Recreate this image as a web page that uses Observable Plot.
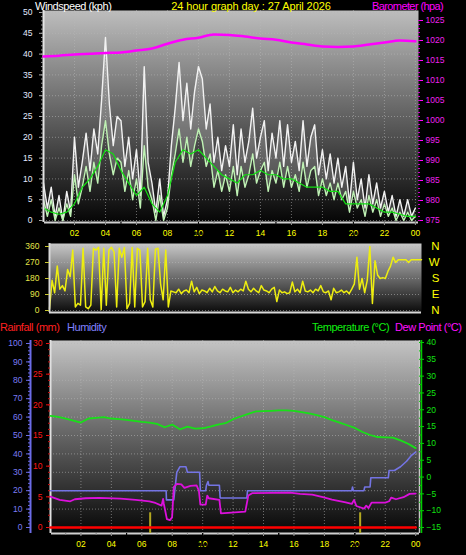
<!DOCTYPE html>
<html><head><meta charset="utf-8">
<script src="https://cdn.jsdelivr.net/npm/d3@7"></script>
<script src="https://cdn.jsdelivr.net/npm/@observablehq/plot@0.6"></script>
<style>
body{margin:0;background:#000;}
#c{position:relative;width:466px;height:555px;background:#000;overflow:hidden;font-family:"Liberation Sans",Arial,sans-serif;}
.t{position:absolute;font-size:11px;line-height:12px;white-space:nowrap;letter-spacing:-0.45px;}
.layer{position:absolute;left:0;}
</style></head><body><div id="c"></div>
<script>
// ---------- DATA ----------
const titleText = "24 hour graph day : 27 April 2026";
const hourTicks = [2,4,6,8,10,12,14,16,18,20,22,24];
const hourLabels = ["02","04","06","08","10","12","14","16","18","20","22","00"];

// wind (kph), every 15 minutes from 00:00 to 24:00
const gust = [9,3,8,1,6,0,7,2, 20,8,14,21,12,22,16,29, 44,28,18,25,24,13,20,10,
  17,6,37,14,9,2,10,1, 5,18,27,38,24,33,22,31, 37,34,22,28,14,20,12,18,
  13,23,11,22,14,19,27,15, 20,24,12,21,15,24,13,23, 14,19,12,24,13,20,23,11,
  17,10,16,9,15,8,13,4, 14,5,10,3,11,4,9,3, 7,2,6,1,5,1,5,1, 3];
const windSpd = [5,1,5,0,3,0,4,1, 11,4,8,13,7,14,9,18, 24,16,11,15,14,7,12,5,
  10,3,18,8,5,0,6,0, 3,11,16,22,14,20,13,18, 22,19,13,16,8,12,7,11,
  7,13,6,13,8,11,16,9, 12,14,7,12,9,14,8,13, 8,11,7,14,8,12,13,6,
  10,6,9,5,9,5,7,2, 7,3,5,1,6,2,5,1, 4,1,3,0,2,0,2,0, 1];
// average wind, every 30 minutes
const avgWind = [3,2,1.5,2,4,8,10,13,17,16,12,9,6,8,4,2,6,14,17,16,17,15,13,11,
  10,9,11,11,12,11,11,10,10,9,8,8,8,7,7,4,4,4,4,3,2,2,1.5,1,1];
// barometer (hPa), hourly
const baro = [1016.0,1016.2,1016.5,1016.7,1016.9,1017.0,1017.5,1018.0,1019.2,1020.2,1020.7,1021.5,
  1021.4,1021.0,1020.5,1020.2,1019.5,1019.0,1018.5,1018.4,1018.5,1019.0,1019.5,1020.0,1019.8];
// wind direction (deg), every 10 minutes
const windDir = [10,170,100,250,120,140, 110,230,190,340,20,40, 30,350,20,10,30,350,
  340,355,5,350,30,340, 355,330,20,350,300,355, 10,40,355,20,350,340, 20,50,350,60,20,345,
  350,150,60,340,20,110, 105,100,120,95,110,115, 100,165,105,130,95,115, 110,100,125,105,135,110,
  100,120,110,105,130,100, 115,105,120,110,165,120, 105,125,110,100,140,115, 110,100,120,130,50,115,
  100,105,95,100,160,105, 120,100,165,110,105,115, 100,120,110,140,105,100, 110,60,125,100,105,115,
  100,110,95,120,150,300, 120,180,100,170,360,40, 280,200,180,185,180,220, 250,300,270,285,285,285,
  285,270,285,285,285,285, 285];
const dirLetters = ["N","W","S","E","N"];
const dirLetterDeg = [360,270,180,90,0];
const dirTicks = [0,90,180,270,360];

// temperature (°C), every 30 minutes
const temp = [18.2,17.9,17.4,16.8,16.2,17.4,17.6,17.8,17.4,17.2,17.0,16.7,16.4,16.2,15.8,14.8,15.6,14.2,
  15.0,14.4,14.5,15.0,15.6,16.0,17.2,18.0,18.8,19.5,19.6,19.7,19.8,19.8,19.7,19.3,18.9,18.4,17.8,16.9,
  16.2,15.4,14.6,13.4,12.5,11.9,11.8,11.7,10.9,9.9,8.6];
// humidity (%) : hour, value
const humHour = [0,7.6,7.62,8.1,8.3,8.5,8.9,9.0,9.8,9.85,10.2,10.25,10.35,10.4,11.1,11.15,12.9,12.95,
  19.8,19.85,19.9,20.6,20.65,21.0,21.05,22.2,22.25,22.6,23.0,23.4,23.7,24];
const humVal = [20,20,15,15,30,33,33,30,30,20,20,23,25,23,23,16,16,20,
  20,22,20,20,22,22,27,27,31,31,33,36,39,41];
// dew point (°C) : hour, value
const dewHour = [0,0.6,1.3,1.6,2.3,3.2,4.6,5.6,6.5,6.9,7.3,7.4,7.45,7.65,7.85,7.99,8.1,8.3,8.6,8.8,9.2,9.6,
  9.75,9.85,10.2,10.3,10.4,11.1,11.2,12.8,13.0,13.25,15.75,16.4,17.2,17.9,18.5,19.4,19.8,19.95,20.1,
  20.6,20.75,20.9,21.1,22.0,22.25,22.4,22.7,23.2,23.6,24];
const dewVal = [-5.8,-6.8,-7.2,-6.6,-6.3,-6.2,-6.4,-6.8,-7.2,-7.7,-8.5,-6.5,-8,-12.5,-12.8,-12,-3,-2,-2.2,-3.2,-2.6,-2.5,
  -4,-8.2,-8.2,-5.5,-6.3,-6.8,-10.8,-10.3,-5.5,-4.8,-4.6,-5.0,-5.2,-6.0,-6.7,-7.5,-8.0,-6.8,-8.6,
  -9.4,-8.5,-9.2,-7.6,-7.6,-7.2,-6.1,-6.6,-6.0,-5.0,-4.9];
// rainfall (mm), hourly
const rain = [0,0,0,0,0,0,0,0,0,0,0,0,0,0,0,0,0,0,0,0,0,0,0,0,0];
const rainMarkHour = [6.55, 20.35];
const rainMarkVal = [2.4, 2.4];

// ---------- TABLES ----------
const t15 = gust.map((_, i) => i / 4);
const windData = t15.map((h, i) => ({h, gust: gust[i], wind: windSpd[i]}));
const avgData = avgWind.map((v, i) => ({h: i / 2, v}));
const baroData = baro.map((v, i) => ({h: i, v}));
const dirData = windDir.map((v, i) => ({h: i / 6, v}));
const letterData = dirLetters.map((l, i) => ({l, d: dirLetterDeg[i]}));
const tempData = temp.map((v, i) => ({h: i / 2, v}));
const humData = humHour.map((h, i) => ({h, v: humVal[i]}));
const dewData = dewHour.map((h, i) => ({h, v: dewVal[i]}));
const rainData = rain.map((v, i) => ({h: i, v}));
const rainMarks = rainMarkHour.map((h, i) => ({h, v: rainMarkVal[i]}));
const fmtHour = d => hourLabels[hourTicks.indexOf(d)] ?? "";
const hoursMinor = d3.range(1, 25);

// ---------- HELPERS ----------
const root = document.getElementById("c");
const baseStyle = {background: "transparent", fontFamily: "Liberation Sans, Arial, sans-serif", fontSize: "8.5px", overflow: "visible"};
function place(svg, top) {
  const d = document.createElement("div");
  d.className = "layer"; d.style.top = top + "px";
  d.appendChild(svg); root.appendChild(d);
}
function addGrad(svg, id, stops) {
  const ns = "http://www.w3.org/2000/svg";
  const defs = document.createElementNS(ns, "defs");
  defs.innerHTML = `<linearGradient id="${id}" x1="0" y1="0" x2="0" y2="1">` +
    stops.map(([o, c]) => `<stop offset="${o}" stop-color="${c}"/>`).join("") + `</linearGradient>`;
  svg.insertBefore(defs, svg.firstChild);
}
function text(str, left, top, color, extra) {
  const d = document.createElement("div");
  d.className = "t"; d.textContent = str;
  d.style.left = left + "px"; d.style.top = top + "px"; d.style.color = color;
  if (extra) Object.assign(d.style, extra);
  root.appendChild(d);
}
const grid = {stroke: "#b8b8b8", strokeOpacity: 0.55, strokeDasharray: "1,2"};

// ---------- TOP PANEL: wind speed ----------
const topDims = {width: 466, height: 245, marginLeft: 43, marginRight: 48, marginTop: 10, marginBottom: 23};
const topX = [0, 24.2];
const windY = [-0.48, 50.48];
const px1 = (topX[1] - topX[0]) / 375;   // one pixel in hours (top panel)
const svgWind = Plot.plot({
  ...topDims, style: baseStyle,
  x: {domain: topX}, y: {domain: windY},
  marks: [
    Plot.frame({fill: "url(#gTop)", stroke: "none"}),
    Plot.gridY(d3.range(0, 51, 5), grid),
    Plot.gridX(hourTicks, grid),
    Plot.areaY(windData, {x: "h", y1: "wind", y2: "gust", fill: "#e8e8e8", fillOpacity: 0.22}),
    Plot.line(windData, {x: "h", y: "gust", stroke: "#f2f2f2", strokeWidth: 1.4}),
    Plot.line(windData, {x: "h", y: "wind", stroke: "#bff2b4", strokeWidth: 1.4}),
    Plot.line(avgData, {x: "h", y: "v", stroke: "#10e010", strokeWidth: 1.2}),
    Plot.ruleX([0], {stroke: "#e4e4e4", strokeWidth: 2}),
    Plot.ruleY([windY[0]], {stroke: "#d0d0d0", strokeWidth: 2}),
    Plot.axisY(d3.range(0, 51, 5), {anchor: "left", tickSize: 4, tickPadding: 7, stroke: "#aaa", fill: "#e4eaff", label: null}),
    Plot.ruleY(d3.range(0, 51, 1), {x1: -2 * px1, x2: 0, stroke: "#999"}),
    Plot.axisX(hourTicks, {anchor: "bottom", tickSize: 3, tickPadding: 4, stroke: "#999", fill: "#ffff00", tickFormat: fmtHour, label: null}),
    Plot.ruleX(hoursMinor, {y1: windY[0], y2: windY[0] - 0.5, stroke: "#888"})
  ]
});
addGrad(svgWind, "gTop", [[0, "#bdbdbd"], [0.45, "#6a6a6a"], [1, "#050505"]]);
place(svgWind, 0);

// barometer overlay
const svgBaro = Plot.plot({
  ...topDims, style: baseStyle,
  x: {domain: topX}, y: {domain: [974.5, 1027.5]},
  marks: [
    Plot.line(baroData, {x: "h", y: "v", stroke: "#ff00ff", strokeWidth: 2.5, curve: "monotone-x"}),
    Plot.axisY(d3.range(975, 1026, 5), {anchor: "right", tickSize: 4, tickPadding: 3, stroke: "#ff00ff", fill: "#ee22ee", tickFormat: "d", label: null}),
    Plot.ruleY(d3.range(975, 1026, 1), {x1: topX[1], x2: topX[1] + 2 * px1, stroke: "#cc00cc"})
  ]
});
place(svgBaro, 0);

// ---------- MIDDLE PANEL: wind direction ----------
const dirY = [-11.25, 376.9];
const svgDir = Plot.plot({
  width: 466, height: 80, marginLeft: 49, marginRight: 45, marginTop: 5, marginBottom: 6,
  style: baseStyle,
  x: {domain: [0, 24]}, y: {domain: dirY},
  marks: [
    Plot.frame({fill: "url(#gMid)", stroke: "none"}),
    Plot.gridY(dirTicks, grid),
    Plot.line(dirData, {x: "h", y: "v", stroke: "#eeee10", strokeWidth: 1.5}),
    Plot.ruleX([0], {stroke: "#d8d8d8", strokeWidth: 2}),
    Plot.ruleY([dirY[0]], {stroke: "#d8d8d8", strokeWidth: 2}),
    Plot.axisY(dirTicks, {anchor: "left", tickSize: 4, tickPadding: 6, stroke: "#c8c830", fill: "#e4e448", label: null}),
    Plot.text(letterData, {y: "d", text: "l", frameAnchor: "right", dx: 18, fill: "#ffff00", fontSize: 11.5})
  ]
});
addGrad(svgDir, "gMid", [[0, "#c8c8c8"], [0.5, "#6a6a6a"], [1, "#0a0a0a"]]);
place(svgDir, 238);

// ---------- BOTTOM PANEL ----------
const botDims = {width: 466, height: 225, marginLeft: 50, marginRight: 47, marginTop: 10, marginBottom: 22};
const botX = {domain: [0, 24.25]};
const px2 = 24.25 / 369;
const humY = [-3.26, 101.63];
const svgHum = Plot.plot({
  ...botDims, style: baseStyle, x: botX, y: {domain: humY},
  marks: [
    Plot.frame({fill: "url(#gBot)", stroke: "none"}),
    Plot.gridY(d3.range(0, 101, 10), grid),
    Plot.gridX(hourTicks, grid),
    Plot.ruleX([0], {stroke: "#e0e0e0", strokeWidth: 2}),
    Plot.ruleX([botX.domain[1]], {stroke: "#c8c8c8", strokeWidth: 1.5}),
    Plot.ruleY([humY[0]], {stroke: "#d0d0d0", strokeWidth: 2}),
    Plot.line(humData, {x: "h", y: "v", stroke: "#7474e4", strokeWidth: 1.6}),
    Plot.ruleX([0], {dx: -20, stroke: "#6c6ce8", strokeWidth: 2}),
    Plot.axisY(d3.range(0, 101, 10), {anchor: "left", dx: -20, tickSize: 4, tickPadding: 4, stroke: "#6c6ce8", fill: "#7c7cf4", label: null}),
    Plot.ruleY(d3.range(0, 101, 2), {x1: -2 * px2, x2: 0, dx: -20, stroke: "#6c6ce8"}),
    Plot.axisX(hourTicks, {anchor: "bottom", tickSize: 3, tickPadding: 4, stroke: "#999", fill: "#ffff00", tickFormat: fmtHour, label: null}),
    Plot.ruleX(hoursMinor, {y1: humY[0], y2: humY[0] - 1.1, stroke: "#888"})
  ]
});
addGrad(svgHum, "gBot", [[0, "#c4c4c4"], [0.45, "#6c6c6c"], [1, "#060606"]]);
place(svgHum, 330);

// temperature / dew point overlay
const tempY = [-16.78, 40.59];
const svgTemp = Plot.plot({
  ...botDims, style: baseStyle, x: botX, y: {domain: tempY},
  marks: [
    Plot.line(tempData, {x: "h", y: "v", stroke: "#18e018", strokeWidth: 1.8}),
    Plot.line(dewData, {x: "h", y: "v", stroke: "#dc10dc", strokeWidth: 1.8}),
    Plot.ruleX([botX.domain[1]], {dx: 2, stroke: "#00cc00", strokeWidth: 1.5}),
    Plot.axisY(d3.range(-15, 41, 5), {anchor: "right", tickSize: 4, tickPadding: 3, stroke: "#00cc00", fill: "#10e010", label: null}),
    Plot.ruleY(d3.range(-15, 41, 2.5), {x1: botX.domain[1], x2: botX.domain[1] + 3 * px2, stroke: "#00cc00"})
  ]
});
place(svgTemp, 330);

// rainfall overlay
const rainY = [-0.978, 30.49];
const svgRain = Plot.plot({
  ...botDims, style: baseStyle, x: botX, y: {domain: rainY},
  marks: [
    Plot.ruleX(rainMarks, {x: "h", y1: () => rainY[0], y2: "v", stroke: "#b4a820", strokeWidth: 2}),
    Plot.line(rainData, {x: "h", y: "v", stroke: "#ff0000", strokeWidth: 2.5}),
    Plot.axisY(d3.range(0, 31, 5), {anchor: "left", tickSize: 4, tickPadding: 4, stroke: "#ee1010", fill: "#ff1818", label: null}),
    Plot.ruleY(d3.range(0, 31, 1), {x1: -2 * px2, x2: 0, stroke: "#cc1010"})
  ]
});
place(svgRain, 330);

// ---------- TEXT ----------
text("Windspeed (kph)", 35, 0, "#ffffff");
text(titleText, 251, 0, "#ffff00", {transform: "translateX(-50%)", letterSpacing: "-0.1px"});
text("Barometer (hpa)", 372, 0, "#ff00ff", {letterSpacing: "-0.6px"});
text("Rainfall (mm)", 0, 321, "#ff2020");
text("Humidity", 67, 321, "#8080ff");
text("Temperature (°C)", 312, 321, "#10ee10");
text("Dew Point (°C)", 395, 321, "#ff10ff");
</script></body></html>
